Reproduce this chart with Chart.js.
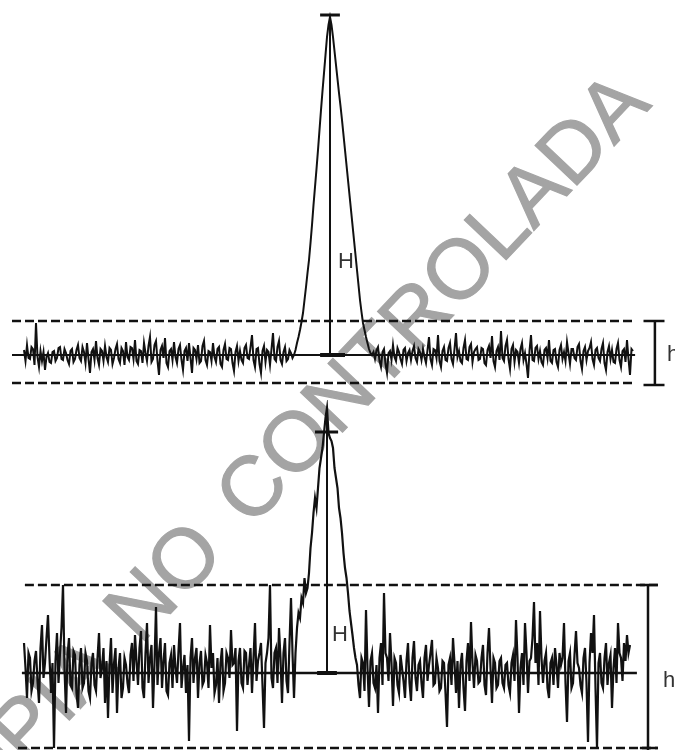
<!DOCTYPE html>
<html>
<head>
<meta charset="utf-8">
<script src="https://cdn.jsdelivr.net/npm/chart.js@4/dist/chart.umd.min.js"></script>
<style>
  body { margin: 0; background: #fff; overflow: hidden; }
  #page { position: relative; width: 675px; height: 750px; }
  #wm {
    position: absolute; left: 275px; top: 462px;
    transform: translate(-50%, -50%) rotate(-46.5deg);
    font: 84px "Liberation Sans", Arial, sans-serif;
    word-spacing: 12px;
    color: #a4a4a4; -webkit-text-stroke: 1.2px #a4a4a4;
    white-space: nowrap; z-index: 0;
  }
  canvas { position: absolute; left: 0; z-index: 1; }
  #topChart { top: 0; }
  #bottomChart { top: 400px; }
</style>
</head>
<body>
<div id="page">
  <div id="wm">COPIA NO CONTROLADA</div>
  <canvas id="topChart" width="675" height="400"></canvas>
  <canvas id="bottomChart" width="675" height="350"></canvas>
</div>
<script>
// detector signal above baseline, two values per sample step
const step = 0.5;

const topStart = 8;
const topTrace = [
  5, -6, 10, -3, -4, 8, 6, -10, 32, -2, -12, 4, -6, 3, -15, -2, 2, -7, -8, 3,
  4, -6, -3, 7, 8, -4, -5, 6, 2, -5, -9, 4, 6, -7, -4, 5, 10, -3, -6, 8,
  3, -8, 12, -4, -18, 3, 6, -5, 14, -3, -10, 6, 4, -6, 9, -2, -7, 7, 5, -9,
  -3, 6, 11, -4, -8, 7, 4, -10, 13, -2, -5, 8, 7, -4, 15, -6, -9, 5, 4, -8,
  12, 2, -6, 9, 18, -7, -4, 10, 14, -6, -20, 5, 9, -3, 17, -8, -12, 4, 6, -5,
  13, -2, -8, 6, 10, -5, -15, 4, 7, -6, 12, -3, -18, 7, 5, -4, 10, -8, -6, 9,
  14, -5, -10, 4, 3, -6, 12, -2, -7, 6, 8, -9, -12, 5, 11, -4, -5, 7, 6, -8,
  -16, 3, 9, -6, 4, -5, -8, 7, 10, -3, -4, 8, 20, -5, -12, 6, 7, -9, -18, 4,
  9, -7, 5, 3, -10, 6, 22, -4, -6, 8, 14, -5, -9, 3, 8, -6, -4, 5, 2, -3,
  // peak
  0, 5, 12, 18, 25, 33, 42, 55, 68, 82,
  95, 112, 130, 150, 168, 186, 205, 225, 245, 264,
  282, 300, 318, 330, 338, 330, 318, 304, 290, 276,
  262, 249, 235, 220, 205, 190, 175, 160, 145, 130,
  115, 100, 85, 70, 55, 43, 32, 25, 18, 12,
  6, 2, 0, 3,
  -4, 5, 8, -6, -12, 3, 6, -9, -18, 2, 4, -5, 10, -2, -6, 7, 3, -4, -9, 5,
  7, -6, 2, 5, -5, 4, 9, -3, -7, 6, 3, -5, 6, -2, -8, 5, 18, -4, -10, 6,
  5, -3, 20, -6, -12, 4, 8, -5, -6, 7, 12, -4, -9, 6, 22, -2, 4, -6, -8, 7,
  15, -4, -5, 8, 11, -7, 3, 6, 8, -5, -4, 7, 6, -8, -10, 5, 9, -3, 19, -6,
  -12, 4, 8, -5, 24, -3, -6, 9, 15, -4, -14, 6, 10, -7, 5, 3, -8, 6, 12, -5,
  2, -9, -23, 4, 20, -5, -6, 7, 9, -4, 4, -7, -10, 5, 7, -3, 15, -6, -8, 5,
  6, -7, -12, 5, 10, -4, 3, -6, 13, 2, -9, 6, 6, -3, -5, 8, 11, -6, -14, 4,
  8, -5, 4, 7, 13, -4, -10, 5, 7, -3, -6, 6, 12, -8, -15, 3, 9, -4, 5, -7,
  -8, 6, 12, -5, -12, 4, 6, -7, 15, -4, -20, 6, 4
];
const topLimits = [34, -28];

const bottomStart = 8;
const bottomTrace = [
  30, 5, -25, 20, 15, -18, -10, 12, 22, -8, -30, 25, 48, -5, 10, 35, 58, 15, -20, 10,
  -75, 12, 40, -10, 20, 45, 88, 5, -40, 18, 35, -12, -15, 22, 18, -20, -35, 8, 25, -15,
  -10, 20, 12, -18, -25, 10, 20, -12, -18, 15, 40, -5, 5, 25, -30, 12, -45, 8, 35, -20,
  10, 25, -40, 5, 20, -25, -15, 15, 8, -10, -20, 18, 30, -8, 38, 12, -12, 25, 42, -15,
  -25, 20, 50, -10, 15, 28, -35, 10, 66, -12, 20, 35, -15, 12, 30, -18, -22, 10, 18, -15,
  28, 5, -10, 22, 50, -15, 5, 18, -20, 8, -68, 15, 35, -10, 15, 25, -25, 10, 22, -12,
  -8, 18, 10, -15, 48, 5, 20, -20, -12, 15, -30, 10, 25, -18, -10, 20, 15, -5, 43, 8,
  10, 25, -58, 12, 25, -10, -15, 22, 20, -12, 8, 25, -20, 15, 50, -8, 12, 20, 30, -12,
  -55, 10, 20, 35, 88, -5, -15, 20, 25, -10, 45, 15, -30, 20, 35, -8, -20, 30, 75, 20,
  // peak
  -25, 20, 45, 60, 55, 75, 70, 95, 80, 85,
  100, 125, 140, 160, 175, 165, 185, 205, 215, 225,
  240, 255, 265, 240, 235, 232, 225, 205, 195, 185,
  165, 155, 140, 120, 105, 95, 80, 62, 50, 38,
  25, 15, 8, -12,
  -25, 15, 10, -18, 63, 5, -34, 12, 20, -10, -15, 8, -40, 15, 30, -12, 80, 20, 15, -8,
  40, 10, -33, 15, 10, -12, -20, 18, 5, -8, -25, 12, 30, -10, -28, 15, 32, -5, -18, 8,
  12, -10, -25, 15, 28, -8, 8, 20, 33, -12, -10, 15, 5, -18, -15, 12, 10, -20, -54, 8,
  15, -12, 35, 10, -20, 12, -35, 8, 20, -15, -38, 12, 30, -8, 51, 10, -15, 18, 12, -10,
  -8, 15, 28, -12, -22, 20, 45, 5, -30, 15, 10, -15, -12, 12, 15, -10, -15, 8, 10, -12,
  -20, 10, 18, -8, 53, 15, -40, 5, 20, -12, 50, 20, -20, 12, 15, 35, 71, 10, 30, -12,
  62, 15, -10, 12, 20, -15, -25, 10, 15, -12, 25, 8, -15, 20, 8, 15, 50, -10, -49, 12,
  20, -15, -10, 18, 42, 10, 5, -12, -20, 15, 25, -10, -69, 10, 40, 20, 58, -15, -75, 10,
  20, -10, -15, 15, 30, -12, 10, 18, -35, 5, 25, -10, 50, 20, 15, -8, 30, 12, 38, 20, 28
];
const bottomLimits = [88, -75];
const bottomCross = 241;

const ink = '#111';

function seg(points, width, dash) {
  return {
    data: points.map(p => ({ x: p[0], y: p[1] })),
    borderColor: ink,
    borderWidth: width,
    borderDash: dash || [],
    pointRadius: 0,
    tension: 0,
    clip: false
  };
}

function trace(values, start, width) {
  return {
    data: values.map((v, i) => ({ x: start + i * step, y: v })),
    borderColor: ink,
    borderWidth: width,
    pointRadius: 0,
    tension: 0,
    clip: false
  };
}

function apexOf(values, start) {
  let best = 0;
  values.forEach((v, i) => { if (v > values[best]) best = i; });
  return { x: start + best * step, y: values[best] };
}

const labelPlugin = {
  id: 'labels',
  afterDatasetsDraw(chart, args, opts) {
    const ctx = chart.ctx;
    const x = chart.scales.x, y = chart.scales.y;
    ctx.save();
    ctx.font = '22px "Liberation Sans", Arial, sans-serif';
    ctx.fillStyle = '#333';
    ctx.textBaseline = 'middle';
    opts.items.forEach(it => {
      ctx.fillText(it.text, x.getPixelForValue(it.x), y.getPixelForValue(it.y));
    });
    ctx.restore();
  }
};

function makeChart(id, datasets, yMin, yMax, labels) {
  return new Chart(document.getElementById(id).getContext('2d'), {
    type: 'line',
    data: { datasets: datasets },
    options: {
      responsive: false,
      animation: false,
      events: [],
      layout: { padding: 0 },
      plugins: {
        legend: { display: false },
        tooltip: { enabled: false },
        labels: { items: labels }
      },
      scales: {
        x: { type: 'linear', min: 0, max: 225, display: false },
        y: { type: 'linear', min: yMin, max: yMax, display: false }
      }
    },
    plugins: [labelPlugin]
  });
}

// top panel
const topApex = apexOf(topTrace, topStart);
makeChart('topChart', [
  seg([[4, topLimits[0]], [211.7, topLimits[0]]], 2.5, [9, 4]),
  seg([[4, topLimits[1]], [211.7, topLimits[1]]], 2.5, [9, 4]),
  seg([[4, 0], [211.7, 0]], 2),
  seg([[106.7, 0], [115, 0]], 4),
  trace(topTrace, topStart, 2),
  seg([[topApex.x, topApex.y], [topApex.x, 0]], 2),
  seg([[106.7, topApex.y + 2], [113.3, topApex.y + 2]], 3),
  seg([[218.3, topLimits[0]], [218.3, topLimits[1] - 2]], 2.5),
  seg([[214.5, topLimits[0]], [221.5, topLimits[0]]], 2.5),
  seg([[214.5, topLimits[1] - 2], [221.5, topLimits[1] - 2]], 2.5)
], -45, 355, [
  { text: 'H', x: 112.7, y: 93 },
  { text: 'h', x: 222.3, y: 0 }
]);

// bottom panel
const bottomApex = apexOf(bottomTrace, bottomStart);
makeChart('bottomChart', [
  seg([[8.3, bottomLimits[0]], [219.3, bottomLimits[0]]], 2.5, [9, 4]),
  seg([[6, bottomLimits[1]], [219.3, bottomLimits[1]]], 2.5, [9, 4]),
  seg([[7.3, 0], [212.3, 0]], 2.5),
  seg([[105.7, 0], [112.3, 0]], 4),
  trace(bottomTrace, bottomStart, 2.2),
  seg([[bottomApex.x, bottomApex.y], [bottomApex.x, 0]], 2),
  seg([[105, bottomCross], [112.7, bottomCross]], 3),
  seg([[216, bottomLimits[0]], [216, bottomLimits[1] - 2]], 2.5),
  seg([[213.3, bottomLimits[0]], [219.3, bottomLimits[0]]], 2.5),
  seg([[213.3, bottomLimits[1]], [219.3, bottomLimits[1]]], 2.5)
], -77, 273, [
  { text: 'H', x: 110.7, y: 38 },
  { text: 'h', x: 221, y: -8 }
]);
</script>
</body>
</html>
